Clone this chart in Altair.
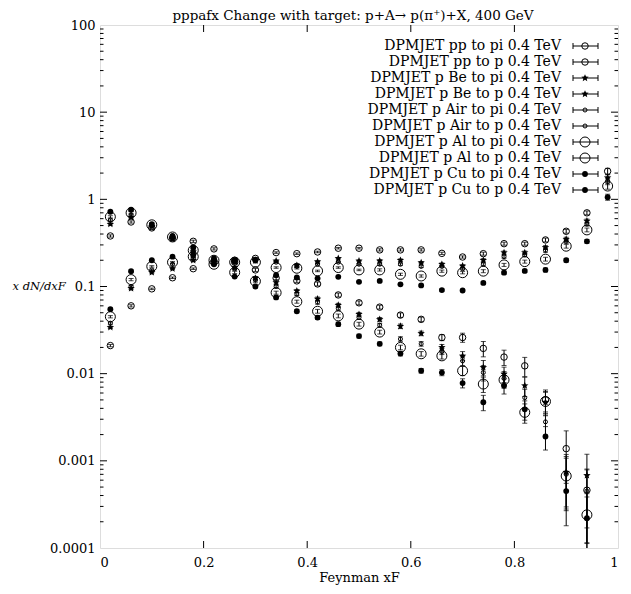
import math
import altair as alt
import pandas as pd

xf = [0.02, 0.06, 0.10, 0.14, 0.18, 0.22, 0.26, 0.30, 0.34, 0.38, 0.42, 0.46, 0.50,
      0.54, 0.58, 0.62, 0.66, 0.70, 0.74, 0.78, 0.82, 0.86, 0.90, 0.94, 0.98]

# pion (pi) series
pp_pi = [0.38, 0.55, 0.47, 0.36, 0.33, 0.27, 0.20, 0.155, 0.125, 0.116, 0.107, 0.080, 0.065,
         0.058, 0.047, 0.042, 0.026, 0.026, 0.0195, 0.0155, 0.0123, 0.0050, 0.00138, 0.00046, None]
be_pi = [0.52, 0.62, 0.49, 0.35, 0.25, 0.20, 0.165, 0.125, 0.111, 0.089, 0.072, 0.061, 0.048,
         0.042, 0.035, 0.029, 0.020, 0.016, 0.0118, 0.0099, 0.0073, 0.0047, 0.00074, 0.00068, None]
air_pi = [0.58, 0.66, 0.50, 0.36, 0.25, 0.20, 0.16, 0.12, 0.10, 0.082, 0.066, 0.056, 0.044,
          0.036, 0.025, 0.022, 0.018, 0.014, 0.0103, 0.0088, 0.0053, 0.0028, 0.0007, 0.00045, None]
al_pi = [0.63, 0.70, 0.51, 0.37, 0.26, 0.20, 0.145, 0.115, 0.085, 0.067, 0.052, 0.046, 0.037,
         0.030, 0.020, 0.0169, 0.016, 0.0108, 0.0076, 0.0085, 0.0036, 0.0048, 0.00067, 0.00024, None]
cu_pi = [0.72, 0.76, 0.52, 0.38, 0.28, 0.21, 0.13, 0.10, 0.075, 0.052, 0.044, 0.037, 0.027,
         0.022, 0.017, 0.0108, 0.0103, 0.0078, 0.0047, 0.0073, 0.0039, 0.0019, 0.00045, 0.00022, None]

# proton (p) series
pp_p = [0.021, 0.060, 0.094, 0.126, 0.16, 0.19, 0.19, 0.21, 0.245, 0.238, 0.249, 0.275, 0.275,
        0.263, 0.263, 0.263, 0.24, 0.218, 0.238, 0.31, 0.31, 0.342, 0.43, 0.70, 2.1]
be_p = [0.034, 0.095, 0.145, 0.16, 0.20, 0.19, 0.19, 0.20, 0.197, 0.175, 0.193, 0.21, 0.197,
        0.197, 0.20, 0.188, 0.18, 0.172, 0.20, 0.245, 0.245, 0.28, 0.35, 0.565, 1.77]
air_p = [0.038, 0.10, 0.155, 0.18, 0.21, 0.19, 0.19, 0.20, 0.19, 0.17, 0.18, 0.19, 0.18,
         0.18, 0.18, 0.17, 0.17, 0.16, 0.18, 0.22, 0.23, 0.26, 0.33, 0.52, 1.6]
al_p = [0.045, 0.12, 0.17, 0.19, 0.22, 0.18, 0.19, 0.19, 0.165, 0.162, 0.151, 0.165, 0.155,
        0.155, 0.138, 0.132, 0.15, 0.144, 0.15, 0.177, 0.193, 0.206, 0.29, 0.446, 1.42]
cu_p = [0.055, 0.15, 0.20, 0.22, 0.23, 0.18, 0.20, 0.20, 0.135, 0.127, 0.124, 0.129, 0.113,
        0.116, 0.106, 0.103, 0.091, 0.090, 0.11, 0.144, 0.151, 0.155, 0.20, 0.33, 1.06]

# relative errors
pi_relerr = [0.03, 0.03, 0.03, 0.03, 0.03, 0.03, 0.03, 0.04, 0.04, 0.04, 0.05, 0.05, 0.05,
             0.05, 0.06, 0.06, 0.08, 0.12, 0.2, 0.2, 0.25, 0.3, 0.6, 0.75, 0.0]
p_relerr = [0.03, 0.03, 0.02, 0.02, 0.02, 0.02, 0.02, 0.02, 0.02, 0.02, 0.02, 0.02, 0.02,
            0.03, 0.03, 0.03, 0.03, 0.03, 0.04, 0.04, 0.04, 0.05, 0.05, 0.05, 0.08]

names = ["DPMJET pp to pi 0.4 TeV", "DPMJET pp to p 0.4 TeV",
         "DPMJET p Be to pi 0.4 TeV", "DPMJET p Be to p 0.4 TeV",
         "DPMJET p Air to pi 0.4 TeV", "DPMJET p Air to p 0.4 TeV",
         "DPMJET p Al to pi 0.4 TeV", "DPMJET p Al to p 0.4 TeV",
         "DPMJET p Cu to pi 0.4 TeV", "DPMJET p Cu to p 0.4 TeV"]
values = [pp_pi, pp_p, be_pi, be_p, air_pi, air_p, al_pi, al_p, cu_pi, cu_p]
errs = [pi_relerr, p_relerr] * 5
styles = ["pp", "pp", "Be", "Be", "Air", "Air", "Al", "Al", "Cu", "Cu"]

title_text = "pppafx Change with target: p+A\u2192 p(\u03c0\u207a)+X, 400 GeV"

# 5-pointed star as an SVG path in the unit box
pts_star = []
for k in range(10):
    a = math.radians(-90 + 36 * k)
    r = 1.0 if k % 2 == 0 else 0.45
    pts_star.append(f"{r * math.cos(a):.3f},{r * math.sin(a):.3f}")
STAR = "M" + " L".join(pts_star) + " Z"

style_def = {
    "pp": dict(shape="circle", size=42, filled=False),
    "Be": dict(shape=STAR, size=60, filled=True),
    "Air": dict(shape="circle", size=16, filled=False),
    "Al": dict(shape="circle", size=100, filled=False),
    "Cu": dict(shape="circle", size=34, filled=True),
}

rows = []
for name, vals, er, st in zip(names, values, errs, styles):
    for x, v, e in zip(xf, vals, er):
        if v is None:
            continue
        rows.append(dict(series=name, kind=st, x=x, y=v, lo=v * (1 - e), hi=v * (1 + e)))
df = pd.DataFrame(rows)
caps = pd.concat([df[["x", "lo"]].rename(columns={"lo": "c"}),
                  df[["x", "hi"]].rename(columns={"hi": "c"})], ignore_index=True)

W, H = 518, 523
FONT = "DejaVu Serif"
xscale = alt.Scale(domain=[0, 1], nice=False, zero=False)
yscale = alt.Scale(type="log", domain=[0.0001, 100], nice=False)

xticks = [0, 0.2, 0.4, 0.6, 0.8, 1.0]
yticks = [0.0001, 0.001, 0.01, 0.1, 1, 10, 100]

xaxis = alt.Axis(values=xticks, format="~g", ticks=False, domain=False, grid=False,
                 labelFont=FONT, labelFontSize=13, labelPadding=8, labelColor="black",
                 title="Feynman xF", titleFont=FONT, titleFontSize=13,
                 titleFontWeight="normal", titlePadding=2, titleColor="black")
yaxis = alt.Axis(values=yticks, format="~g", ticks=False, domain=False, grid=False,
                 labelFont=FONT, labelFontSize=13, labelPadding=5, labelColor="black",
                 title="x dN/dxF", titleFont=FONT, titleFontSize=11.5, titleFontStyle="italic",
                 titleFontWeight="normal", titleAngle=0, titleAlign="left",
                 titleBaseline="middle", titleX=-88, titleY=261, titleColor="black")

base = alt.Chart(df)
bars = base.mark_rule(color="black", strokeWidth=1, clip=True).encode(
    x=alt.X("x:Q", scale=xscale, axis=xaxis),
    y=alt.Y("lo:Q", scale=yscale, axis=yaxis), y2="hi:Q")
capmarks = alt.Chart(caps).mark_tick(orient="horizontal", size=5, thickness=1,
                                     color="black", clip=True).encode(
    x=alt.X("x:Q", scale=xscale, axis=xaxis), y=alt.Y("c:Q", scale=yscale, axis=yaxis))

pts = []
for st, d in style_def.items():
    pts.append(base.transform_filter(alt.datum.kind == st).mark_point(
        shape=d["shape"], size=d["size"], filled=d["filled"], color="black",
        strokeWidth=1, opacity=1, clip=True).encode(
        x=alt.X("x:Q", scale=xscale, axis=xaxis), y=alt.Y("y:Q", scale=yscale, axis=yaxis)))

# inward ticks
xt = pd.DataFrame({"v": [0.2, 0.4, 0.6, 0.8]})
yt_major = pd.DataFrame({"v": yticks[1:-1]})
minor = []
for dec in [0.0001, 0.001, 0.01, 0.1, 1, 10]:
    for m in range(2, 10):
        minor.append(dec * m)
yt_minor = pd.DataFrame({"v": minor})

tick_layers = [
    alt.Chart(xt).mark_rule(color="black").encode(x=alt.X("v:Q", scale=xscale, axis=xaxis), y=alt.value(H), y2=alt.value(H - 7)),
    alt.Chart(xt).mark_rule(color="black").encode(x=alt.X("v:Q", scale=xscale, axis=xaxis), y=alt.value(0), y2=alt.value(7)),
    alt.Chart(yt_major).mark_rule(color="black").encode(y=alt.Y("v:Q", scale=yscale, axis=yaxis), x=alt.value(0), x2=alt.value(7)),
    alt.Chart(yt_major).mark_rule(color="black").encode(y=alt.Y("v:Q", scale=yscale, axis=yaxis), x=alt.value(W), x2=alt.value(W - 7)),
    alt.Chart(yt_minor).mark_rule(color="black").encode(y=alt.Y("v:Q", scale=yscale, axis=yaxis), x=alt.value(0), x2=alt.value(3.5)),
    alt.Chart(yt_minor).mark_rule(color="black").encode(y=alt.Y("v:Q", scale=yscale, axis=yaxis), x=alt.value(W), x2=alt.value(W - 3.5)),
]

# title as a text mark above the frame
title_layer = alt.Chart(pd.DataFrame({"t": [title_text]})).mark_text(
    align="center", baseline="middle", font=FONT, fontSize=13.5, color="black").encode(
    text="t:N", x=alt.value(253), y=alt.value(-9))

# legend (manual, label left of symbol)
leg_layers = []
for i, (name, st) in enumerate(zip(names, styles)):
    yy = 21 + 16 * i
    d = style_def[st]
    ldf = pd.DataFrame({"label": [name]})
    leg_layers.append(alt.Chart(ldf).mark_text(align="right", baseline="middle", font=FONT,
                                                fontSize=14, color="black").encode(
        text="label:N", x=alt.value(461), y=alt.value(yy)))
    leg_layers.append(alt.Chart(ldf).mark_rule(color="black").encode(
        x=alt.value(473), x2=alt.value(498), y=alt.value(yy)))
    leg_layers.append(alt.Chart(ldf).mark_rule(color="black").encode(
        x=alt.value(473), y=alt.value(yy - 3), y2=alt.value(yy + 3)))
    leg_layers.append(alt.Chart(ldf).mark_rule(color="black").encode(
        x=alt.value(498), y=alt.value(yy - 3), y2=alt.value(yy + 3)))
    leg_layers.append(alt.Chart(ldf).mark_point(shape=d["shape"], size=d["size"], filled=d["filled"],
                                                color="black", strokeWidth=1, opacity=1).encode(
        x=alt.value(485), y=alt.value(yy)))

chart = alt.layer(bars, capmarks, *pts, *tick_layers, title_layer, *leg_layers).properties(
    width=W, height=H,
    autosize=alt.AutoSizeParams(type="none"),
    padding={"left": 92, "top": 17, "right": 5, "bottom": 37},
).configure_view(stroke="black", strokeWidth=1).configure(background="white")

chart.save("out.html", embed_options={"renderer": "svg", "actions": False})
